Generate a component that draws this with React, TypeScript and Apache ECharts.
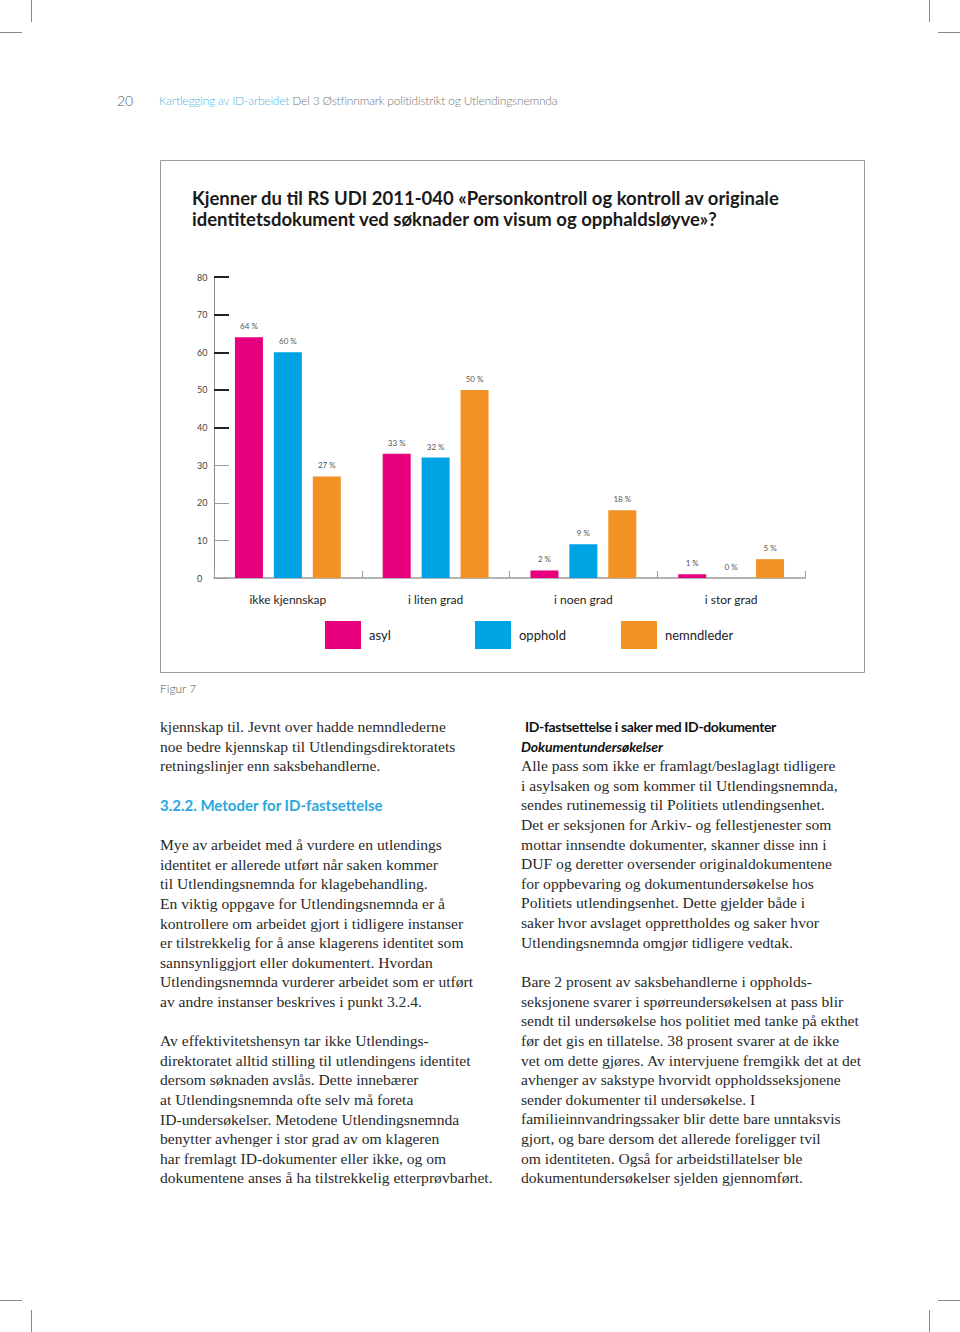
import React, { useEffect, useRef } from "react";
import * as echarts from "echarts";

const categories = ["ikke kjennskap", "i liten grad", "i noen grad", "i stor grad"];
const seriesNames = ["asyl", "opphold", "nemndleder"];
const asylValues = [64, 33, 2, 1];
const oppholdValues = [60, 32, 9, 0];
const nemndlederValues = [27, 50, 18, 5];
const upperTicks = [40, 50, 60, 70, 80];
const lowerTicks = [0, 10, 20, 30];

const COLORS = ["#E6007E", "#00A3E4", "#F39224"];
const SANS = "Lato, 'DejaVu Sans Condensed', sans-serif";
const SERIF = "'Liberation Serif', 'DejaVu Serif', serif";

const leftBlock1 = [
  "kjennskap til. Jevnt over hadde nemndlederne",
  "noe bedre kjennskap til Utlendingsdirektoratets",
  "retningslinjer enn saksbehandlerne.",
];
const leftBlock2 = [
  "Mye av arbeidet med å vurdere en utlendings",
  "identitet er allerede utført når saken kommer",
  "til Utlendingsnemnda for klagebehandling.",
  "En viktig oppgave for Utlendingsnemnda er å",
  "kontrollere om arbeidet gjort i tidligere instanser",
  "er tilstrekkelig for å anse klagerens identitet som",
  "sannsynliggjort eller dokumentert. Hvordan",
  "Utlendingsnemnda vurderer arbeidet som er utført",
  "av andre instanser beskrives i punkt 3.2.4.",
];
const leftBlock3 = [
  "Av effektivitetshensyn tar ikke Utlendings-",
  "direktoratet alltid stilling til utlendingens identitet",
  "dersom søknaden avslås. Dette innebærer",
  "at Utlendingsnemnda ofte selv må foreta",
  "ID-undersøkelser. Metodene Utlendingsnemnda",
  "benytter avhenger i stor grad av om klageren",
  "har fremlagt ID-dokumenter eller ikke, og om",
  "dokumentene anses å ha tilstrekkelig etterprøvbarhet.",
];
const rightBlock1 = [
  "Alle pass som ikke er framlagt/beslaglagt tidligere",
  "i asylsaken og som kommer til Utlendingsnemnda,",
  "sendes rutinemessig til Politiets utlendingsenhet.",
  "Det er seksjonen for Arkiv- og fellestjenester som",
  "mottar innsendte dokumenter, skanner disse inn i",
  "DUF og deretter oversender originaldokumentene",
  "for oppbevaring og dokumentundersøkelse hos",
  "Politiets utlendingsenhet. Dette gjelder både i",
  "saker hvor avslaget opprettholdes og saker hvor",
  "Utlendingsnemnda omgjør tidligere vedtak.",
];
const rightBlock2 = [
  "Bare 2 prosent av saksbehandlerne i oppholds-",
  "seksjonene svarer i spørreundersøkelsen at pass blir",
  "sendt til undersøkelse hos politiet med tanke på ekthet",
  "før det gis en tillatelse. 38 prosent svarer at de ikke",
  "vet om dette gjøres. Av intervjuene fremgikk det at det",
  "avhenger av sakstype hvorvidt oppholdsseksjonene",
  "sender dokumenter til undersøkelse. I",
  "familieinnvandringssaker blir dette bare unntaksvis",
  "gjort, og bare dersom det allerede foreligger tvil",
  "om identiteten. Også for arbeidstillatelser ble",
  "dokumentundersøkelser sjelden gjennomført.",
];

const LH = 19.6;

function Lines({ lines, x, y }: { lines: string[]; x: number; y: number }) {
  return (
    <div
      style={{
        position: "absolute",
        left: x,
        top: y - LH / 2,
        fontFamily: SERIF,
        fontSize: 15.6,
        lineHeight: LH + "px",
        color: "#2a2a2a",
        whiteSpace: "nowrap",
      }}
    >
      {lines.map((l, i) => (
        <div key={i}>{l}</div>
      ))}
    </div>
  );
}

function Mark({ x, y, w, h }: { x: number; y: number; w: number; h: number }) {
  return <div style={{ position: "absolute", left: x, top: y, width: w, height: h, background: "#888" }} />;
}

function Chart() {
  const ref = useRef<HTMLDivElement>(null);
  useEffect(() => {
    if (!ref.current) return;
    const chart = echarts.init(ref.current, null, { renderer: "svg" });
    const values = [asylValues, oppholdValues, nemndlederValues];
    const legendLefts = [165, 315, 461];
    chart.setOption({
      animation: false,
      color: COLORS,
      graphic: [
        {
          type: "rect",
          shape: { x: 0.5, y: 0.5, width: 704, height: 512 },
          style: { fill: "none", stroke: "#9a9a9a", lineWidth: 1 },
          silent: true,
        },
      ],
      title: {
        text: "Kjenner du til RS UDI 2011-040 «Personkontroll og kontroll av originale\nidentitetsdokument ved søknader om visum og opphaldsløyve»?",
        left: 32,
        top: 27,
        padding: 0,
        textStyle: {
          fontFamily: SANS,
          fontSize: 18.5,
          fontWeight: 700,
          lineHeight: 21,
          color: "#1a1a1a",
        },
      },
      legend: seriesNames.map((n, i) => ({
        data: [n],
        left: legendLefts[i],
        top: 461,
        padding: 0,
        itemWidth: 36,
        itemHeight: 28,
        icon: "rect",
        textStyle: { fontFamily: SANS, fontSize: 13, color: "#222", padding: [0, 0, 0, 3] },
      })),
      grid: { left: 54, right: 60, top: 117, bottom: 95 },
      xAxis: {
        type: "category",
        data: categories,
        axisLine: { lineStyle: { color: "#9a9a9a", width: 1.5 } },
        axisTick: { show: true, inside: true, length: 7, lineStyle: { color: "#9a9a9a" } },
        axisLabel: { margin: 15, fontFamily: SANS, fontSize: 12, color: "#222" },
      },
      yAxis: [
        {
          type: "value",
          min: 0,
          max: 80,
          interval: 10,
          splitLine: { show: false },
          axisLine: { show: true, lineStyle: { color: "#8a8a8a", width: 1 } },
          axisTick: {
            show: true,
            inside: true,
            length: 15,
            customValues: upperTicks,
            lineStyle: { color: "#222", width: 2 },
          },
          axisLabel: {
            customValues: upperTicks,
            align: "left",
            margin: 17,
            fontFamily: SANS,
            fontSize: 9,
            color: "#444",
          },
        },
        {
          type: "value",
          min: 0,
          max: 80,
          interval: 10,
          position: "left",
          offset: 0,
          splitLine: { show: false },
          axisLine: { show: false },
          axisTick: {
            show: true,
            inside: true,
            length: 15,
            customValues: lowerTicks,
            lineStyle: { color: "#9a9a9a", width: 1 },
          },
          axisLabel: {
            customValues: lowerTicks,
            align: "left",
            margin: 17,
            fontFamily: SANS,
            fontSize: 9,
            color: "#444",
            verticalAlign: "middle",
            padding: [0, 0, 21, 0],
          },
        },
      ],
      series: seriesNames.map((n, i) => ({
        name: n,
        type: "bar",
        data: values[i],
        barWidth: 28,
        barGap: "39%",
        label: {
          show: true,
          position: "top",
          distance: 7,
          formatter: "{c} %",
          fontFamily: SANS,
          fontSize: 8,
          color: "#555",
        },
      })),
    });
    return () => chart.dispose();
  }, []);
  return <div ref={ref} style={{ position: "absolute", left: 160, top: 160, width: 705, height: 513 }} />;
}

export default function App() {
  return (
    <div style={{ position: "absolute", left: 0, top: 0, width: 960, height: 1332, background: "#fff", overflow: "hidden" }}>
      <Mark x={31} y={0} w={1} h={22} />
      <Mark x={0} y={32} w={22} h={1} />
      <Mark x={929} y={0} w={1} h={22} />
      <Mark x={938} y={32} w={22} h={1} />
      <Mark x={0} y={1300} w={22} h={1} />
      <Mark x={31} y={1310} w={1} h={22} />
      <Mark x={938} y={1300} w={22} h={1} />
      <Mark x={929} y={1310} w={1} h={22} />

      <div style={{ position: "absolute", left: 117, top: 92, fontFamily: "Lato, sans-serif", fontWeight: 300, fontSize: 14, color: "#555", lineHeight: "18px" }}>20</div>
      <div style={{ position: "absolute", left: 159, top: 92, fontFamily: "Lato, sans-serif", fontWeight: 300, fontSize: 12, letterSpacing: "-0.2px", color: "#777", lineHeight: "18px", whiteSpace: "nowrap" }}>
        <span style={{ color: "#4DB8E6" }}>Kartlegging av ID-arbeidet</span> Del 3 Østfinnmark politidistrikt og Utlendingsnemnda
      </div>

      <Chart />

      <div style={{ position: "absolute", left: 160, top: 680, fontFamily: "Lato, sans-serif", fontWeight: 300, fontSize: 12, color: "#555", lineHeight: "18px" }}>Figur 7</div>

      <Lines lines={leftBlock1} x={160} y={727} />
      <div style={{ position: "absolute", left: 160, top: 794, fontFamily: SANS, fontWeight: 700, fontSize: 15, letterSpacing: "0px", color: "#2AA7DE", lineHeight: "22px", whiteSpace: "nowrap" }}>
        3.2.2. Metoder for ID-fastsettelse
      </div>
      <Lines lines={leftBlock2} x={160} y={845} />
      <Lines lines={leftBlock3} x={160} y={1041} />

      <div style={{ position: "absolute", left: 525, top: 717, fontFamily: SANS, fontWeight: 700, fontSize: 14, letterSpacing: "-0.35px", color: "#111", lineHeight: "20px", whiteSpace: "nowrap" }}>
        ID-fastsettelse i saker med ID-dokumenter
      </div>
      <div style={{ position: "absolute", left: 521, top: 737, fontFamily: SANS, fontWeight: 700, fontStyle: "italic", fontSize: 14, letterSpacing: "-0.1px", color: "#111", lineHeight: "20px", whiteSpace: "nowrap" }}>
        Dokumentundersøkelser
      </div>
      <Lines lines={rightBlock1} x={521} y={766} />
      <Lines lines={rightBlock2} x={521} y={982} />
    </div>
  );
}
